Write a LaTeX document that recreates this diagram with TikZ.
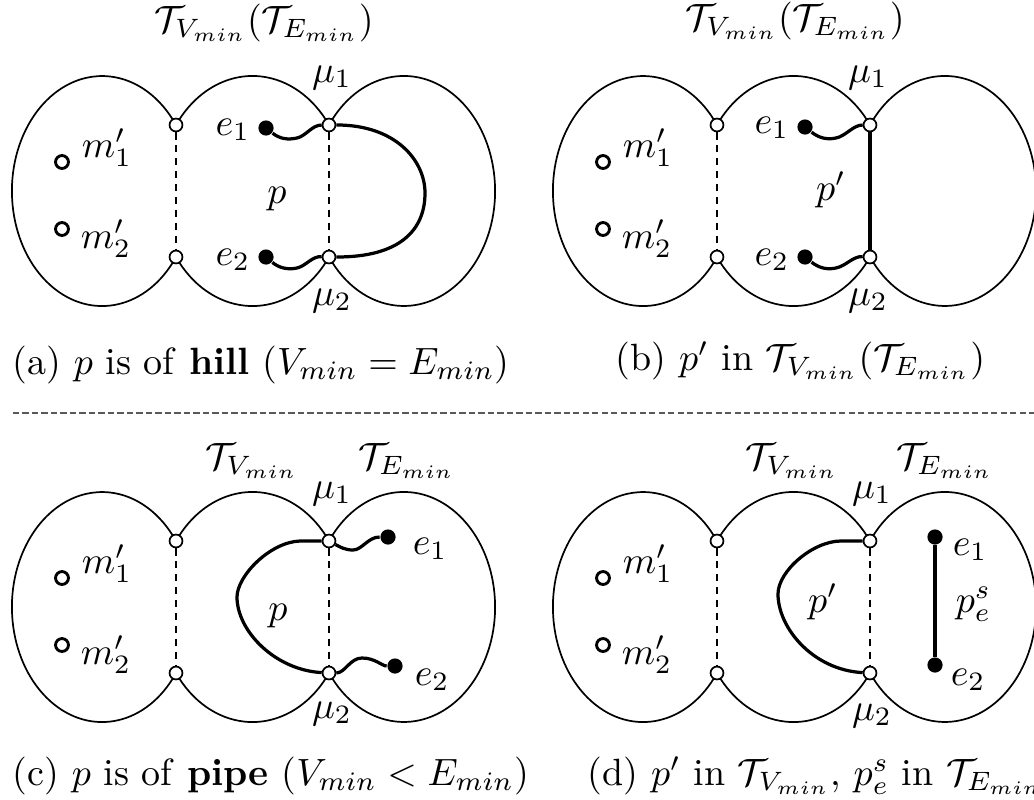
\IfFileExists{fix-cm.sty}{\RequirePackage{fix-cm}}{}
\documentclass[tikz,border=0pt]{standalone}
\begin{document}
\begin{tikzpicture}[x=0.2632pt,y=-0.2632pt,
  every node/.style={font=\fontsize{10}{12}\selectfont},
  blob/.style={line width=0.45pt},
  junc/.style={circle,draw,fill=white,inner sep=0pt,minimum size=3.4pt,line width=0.45pt},
  mnode/.style={circle,draw,inner sep=0pt,minimum size=3.4pt,line width=0.75pt},
  enode/.style={circle,fill=black,inner sep=0pt,minimum size=4pt},
  cut/.style={dash pattern=on 1.9pt off 1.5pt,line width=0.45pt},
  pathline/.style={line width=0.85pt},
  lbl/.style={inner sep=0pt}]
\useasboundingbox (0,0) rectangle (1034,799);
\newcommand\myblobs[1]{%
  \draw[blob] (176,257) arc[start angle=35, end angle=325, x radius=90.2, y radius=115];
  \draw[blob] (176,125) arc[start angle=215, end angle=325, x radius=93.4, y radius=115];
  \draw[blob] (329,257) arc[start angle=35, end angle=145, x radius=93.4, y radius=115];
  \draw[blob] (329,125) arc[start angle=215, end angle=505, x radius=91.3, y radius=115];
  \node[junc] (#1l1) at (176,125) {};
  \node[junc] (#1l2) at (176,257) {};
  \node[junc] (#1j1) at (329,125) {};
  \node[junc] (#1j2) at (329,257) {};
  \draw[cut] (#1l1) -- (#1l2);
  \node[mnode] (#1m1) at (62,162) {};
  \node[mnode] (#1m2) at (62,229) {};
  \node[lbl,anchor=base west] (#1m1t) at (81,157) {$m'_1$};
  \node[lbl,anchor=base west] (#1m2t) at (80,248) {$m'_2$};
}
% ---------- panel (a)
\begin{scope}
  \myblobs{a}
  \draw[cut] (aj1) -- (aj2);
  \node[enode] (ae1) at (266,128) {};
  \node[enode] (ae2) at (266,257) {};
  \node[lbl,anchor=base east] (ae1t) at (251,135) {$e_1$};
  \node[lbl,anchor=base east] (ae2t) at (251,265) {$e_2$};
  \draw[pathline] (ae1) .. controls (280,139) and (288,140) .. (297,138) .. controls (306,136) and (312,125) .. (aj1);
  \draw[pathline] (ae2) .. controls (279,268) and (288,270) .. (297,268) .. controls (306,266) and (312,256) .. (aj2);
  \draw[pathline] (aj1) -- (337,125) .. controls (395,125) and (425,160) .. (425,193) .. controls (425,230) and (400,257) .. (337,257) -- (aj2);
  \node[lbl,anchor=base] (apt) at (277,203) {$p$};
  \node[lbl,anchor=base] (amu1) at (332,82) {$\mu_1$};
  \node[lbl,anchor=base] (amu2) at (332,305) {$\mu_2$};
  \node[lbl,anchor=base] (atitle) at (264,32) {$\mathcal{T}_{V_{min}}(\mathcal{T}_{E_{min}})$};
  \node[lbl,anchor=base west] (acap) at (12,374) {(a) $p$ is of \textbf{hill} ($V_{min}=E_{min}$)};
\end{scope}
% ---------- panel (b)
\begin{scope}[shift={(541,0)}]
  \myblobs{b}
  \node[enode] (be1) at (264,127) {};
  \node[enode] (be2) at (264,257) {};
  \node[lbl,anchor=base east] (be1t) at (249,133) {$e_1$};
  \node[lbl,anchor=base east] (be2t) at (249,265) {$e_2$};
  \draw[pathline] (be1) .. controls (278,138) and (286,140) .. (295,138) .. controls (305,136) and (312,125) .. (bj1);
  \draw[pathline] (be2) .. controls (278,268) and (286,270) .. (295,268) .. controls (305,266) and (312,256) .. (bj2);
  \draw[pathline] (bj1) -- (bj2);
  \node[lbl,anchor=base] (bpt) at (290,200) {$p'$};
  \node[lbl,anchor=base] (bmu1) at (327,82) {$\mu_1$};
  \node[lbl,anchor=base] (bmu2) at (327,305) {$\mu_2$};
  \node[lbl,anchor=base] (btitle) at (254,30) {$\mathcal{T}_{V_{min}}(\mathcal{T}_{E_{min}})$};
\end{scope}
\node[lbl,anchor=base west] (bcap) at (615,370) {(b) $p'$ in $\mathcal{T}_{V_{min}}(\mathcal{T}_{E_{min}})$};
% ---------- separator
\coordinate (sepL) at (13,413);
\coordinate (sepR) at (1034,413);
\draw[gray!70!black,line width=0.4pt,dash pattern=on 1.6pt off 0.9pt] (sepL) -- (sepR);
% ---------- panel (c)
\begin{scope}[shift={(0,416)}]
  \myblobs{c}
  \draw[cut] (cj1) -- (cj2);
  \node[enode] (ce1) at (388,121) {};
  \node[enode] (ce2) at (395,250) {};
  \node[lbl,anchor=base west] (ce1t) at (412,138) {$e_1$};
  \node[lbl,anchor=base west] (ce2t) at (414,269) {$e_2$};
  \draw[pathline] (cj1) .. controls (340,131) and (345,134) .. (353,134) .. controls (362,134) and (368,121) .. (ce1);
  \draw[pathline] (cj2) .. controls (345,257) and (350,242) .. (362,242) .. controls (375,242) and (382,250) .. (ce2);
  \draw[pathline] (cj1) -- (300,125) .. controls (270,126) and (237,160) .. (237,181) .. controls (237,215) and (275,254) .. (cj2);
  \node[lbl,anchor=base] (cpt) at (278,204) {$p$};
  \node[lbl,anchor=base] (cmu1) at (332,82) {$\mu_1$};
  \node[lbl,anchor=base] (cmu2) at (332,302) {$\mu_2$};
  \node[lbl,anchor=base] (ctv) at (252,53) {$\mathcal{T}_{V_{min}}$};
  \node[lbl,anchor=base] (cte) at (407,53) {$\mathcal{T}_{E_{min}}$};
\end{scope}
\node[lbl,anchor=base west] (ccap) at (12,785) {(c) $p$ is of \textbf{pipe} ($V_{min}<E_{min}$)};
% ---------- panel (d)
\begin{scope}[shift={(541,416)}]
  \myblobs{d}
  \draw[cut] (dj1) -- (dj2);
  \node[enode] (de1) at (394,121) {};
  \node[enode] (de2) at (394,249) {};
  \node[lbl,anchor=base west] (de1t) at (411,139) {$e_1$};
  \node[lbl,anchor=base west] (de2t) at (409,269) {$e_2$};
  \draw[pathline] (de1) -- (de2);
  \node[lbl,anchor=base west] (dpes) at (414,196) {$p_e^s$};
  \draw[pathline] (dj1) -- (300,125) .. controls (272,125) and (237,155) .. (237,178) .. controls (237,212) and (272,254) .. (dj2);
  \node[lbl,anchor=base] (dpt) at (282,196) {$p'$};
  \node[lbl,anchor=base] (dmu1) at (331,82) {$\mu_1$};
  \node[lbl,anchor=base] (dmu2) at (331,304) {$\mu_2$};
  \node[lbl,anchor=base] (dtv) at (251,53) {$\mathcal{T}_{V_{min}}$};
  \node[lbl,anchor=base] (dte) at (404,53) {$\mathcal{T}_{E_{min}}$};
\end{scope}
\node[lbl,anchor=base west] (dcap) at (587,785) {(d) $p'$ in $\mathcal{T}_{V_{min}}$, $p_e^s$ in $\mathcal{T}_{E_{min}}$};
\end{tikzpicture}
\end{document}
